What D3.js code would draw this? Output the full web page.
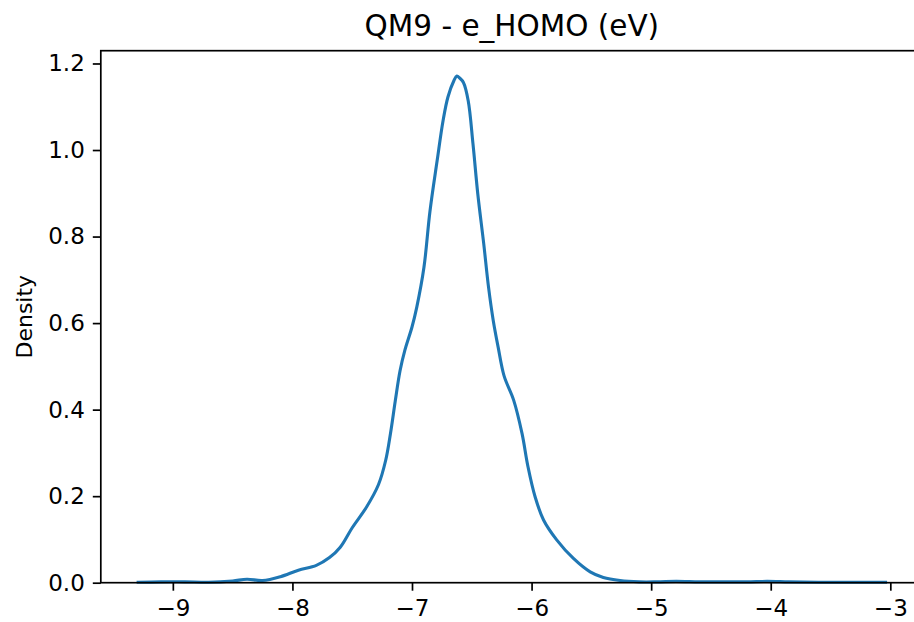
<!DOCTYPE html>
<html>
<head>
<meta charset="utf-8">
<script src="https://cdn.jsdelivr.net/npm/d3@7"></script>
<style>
  html, body { margin: 0; padding: 0; background: #fff; }
  svg { display: block; font-family: "DejaVu Sans", sans-serif; }
</style>
</head>
<body>
<svg id="chart" width="914" height="622"></svg>
<script>
// ---- data ----
const title = "QM9 - e_HOMO (eV)";
const yLabel = "Density";
const xTicks = [-9, -8, -7, -6, -5, -4, -3];
const yTicks = [0.0, 0.2, 0.4, 0.6, 0.8, 1.0, 1.2];
const energy = [-9.29, -9.1, -8.9, -8.7, -8.5, -8.38, -8.25, -8.1, -7.95, -7.8, -7.69, -7.6, -7.5, -7.38, -7.28, -7.22, -7.18, -7.14, -7.1, -7.06, -7.0, -6.96, -6.9, -6.85, -6.79, -6.74, -6.70, -6.65, -6.625, -6.6, -6.57, -6.53, -6.49, -6.45, -6.40, -6.36, -6.32, -6.28, -6.23, -6.15, -6.08, -6.03, -5.97, -5.90, -5.79, -5.65, -5.51, -5.40, -5.26, -5.1, -4.95, -4.79, -4.6, -4.45, -4.2, -4.03, -3.85, -3.6, -3.3, -3.04];
const density = [0.001, 0.002, 0.002, 0.001, 0.004, 0.008, 0.005, 0.014, 0.029, 0.040, 0.058, 0.082, 0.127, 0.175, 0.227, 0.283, 0.345, 0.420, 0.490, 0.537, 0.591, 0.637, 0.729, 0.858, 0.975, 1.068, 1.122, 1.160, 1.171, 1.166, 1.156, 1.114, 1.014, 0.899, 0.783, 0.683, 0.605, 0.545, 0.478, 0.422, 0.345, 0.268, 0.198, 0.145, 0.099, 0.056, 0.025, 0.012, 0.005, 0.002, 0.002, 0.003, 0.002, 0.002, 0.002, 0.003, 0.002, 0.001, 0.001, 0.001];

// ---- layout ----
const L = 100.8, R = 922.9, T = 50.7, B = 582.7;
const svg = d3.select("#chart");
svg.append("rect").attr("width", 914).attr("height", 622).attr("fill", "#fff");

const xPad = (d3.max(energy) - d3.min(energy)) * 0.05;
const x = d3.scaleLinear()
  .domain([d3.min(energy) - xPad, d3.max(energy) + xPad])
  .range([L, R]);
const y = d3.scaleLinear()
  .domain([0, d3.max(density) * 1.05])
  .range([B, T]);

const pts = energy.map((e, i) => [e, density[i]]);
const line = d3.line()
  .x(d => x(d[0]))
  .y(d => y(d[1]))
  .curve(d3.curveCatmullRom.alpha(0.5));

// curve
svg.append("path")
  .datum(pts)
  .attr("d", line)
  .attr("fill", "none")
  .attr("stroke", "#1f77b4")
  .attr("stroke-width", 3.1)
  .attr("stroke-linejoin", "round")
  .attr("stroke-linecap", "square");

// axes
const fmtX = d => d3.format("d")(d);
const xAxis = d3.axisBottom(x).tickValues(xTicks).tickFormat(fmtX)
  .tickSize(8).tickPadding(8.5);
const yAxis = d3.axisLeft(y).tickValues(yTicks).tickFormat(d3.format(".1f"))
  .tickSize(8).tickPadding(8);

const gx = svg.append("g").attr("transform", `translate(0,${B})`).call(xAxis);
const gy = svg.append("g").attr("transform", `translate(${L},0)`).call(yAxis);
[gx, gy].forEach(g => {
  g.select(".domain").remove();
  g.selectAll(".tick line").attr("stroke", "#000").attr("stroke-width", 1.7);
  g.selectAll(".tick text").attr("fill", "#000")
    .style("font-size", "23px").style("font-family", "'DejaVu Sans', sans-serif");
});

// spines
svg.append("rect")
  .attr("x", L).attr("y", T).attr("width", R - L).attr("height", B - T)
  .attr("fill", "none").attr("stroke", "#000").attr("stroke-width", 1.7)
  .attr("stroke-linecap", "square");

// title
svg.append("text")
  .attr("x", (L + R) / 2).attr("y", 36)
  .attr("text-anchor", "middle")
  .style("font-size", "29.5px")
  .attr("fill", "#000")
  .text(title);

// y label
svg.append("text")
  .attr("transform", `translate(32,${(T + B) / 2}) rotate(-90)`)
  .attr("text-anchor", "middle")
  .style("font-size", "22px")
  .attr("fill", "#000")
  .text(yLabel);
</script>
</body>
</html>
